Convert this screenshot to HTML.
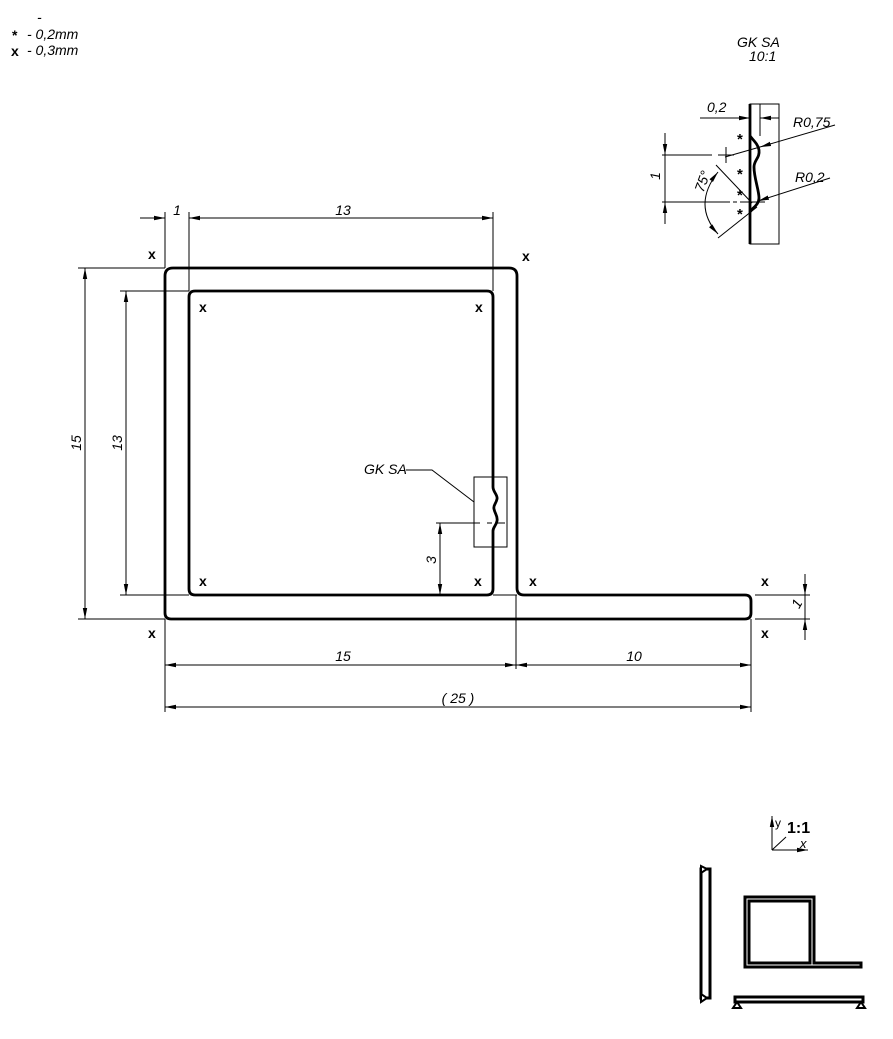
<!DOCTYPE html>
<html><head><meta charset="utf-8"><style>
html,body{margin:0;padding:0;background:#fff;}
svg{display:block;}
text{font-family:"Liberation Sans",sans-serif;fill:#000;}
.it{font-style:italic;font-size:14px;}
.xm{font-size:14px;font-weight:bold;}
</style></head><body>
<svg width="893" height="1039" viewBox="0 0 893 1039" xmlns="http://www.w3.org/2000/svg">
<defs>
<marker id="a" markerWidth="12" markerHeight="6" refX="11" refY="3" orient="auto-start-reverse" markerUnits="userSpaceOnUse">
<path d="M0,0.8 L11,3 L0,5.2 Z" fill="#000"/></marker>
</defs>
<g stroke="#000" fill="none">
<path d="M165,276 Q165,268 173,268 L509,268 Q517,268 517,276 L517,588 Q517,595 524,595 L745,595 Q751,595 751,601 L751,613 Q751,619 745,619 L171,619 Q165,619 165,613 Z" stroke-width="2.8"/>
<path d="M195,291 L487,291 Q493,291 493,297 L493,487 C493,492 498,495 497,499 C496,504 493,505 494,509 C495,514 498,516 497,521 C496,526 493,527 493,531 L493,589 Q493,595 487,595 L195,595 Q189,595 189,589 L189,297 Q189,291 195,291 Z" stroke-width="2.8"/>
<line x1="493" y1="595" x2="517" y2="595" stroke-width="1"/>
<rect x="474" y="477" width="33" height="70" stroke-width="1"/>
<path d="M474,502 L432,470 L406,470" stroke-width="1"/>
<line x1="487" y1="523" x2="492" y2="523" stroke-width="1"/>
<line x1="497" y1="523" x2="505" y2="523" stroke-width="1"/>
<g stroke-width="1">
<line x1="165" y1="212" x2="165" y2="268"/>
<line x1="189" y1="212" x2="189" y2="291"/>
<line x1="493" y1="212" x2="493" y2="291"/>
<line x1="140" y1="218" x2="165" y2="218" marker-end="url(#a)"/>
<line x1="189" y1="218" x2="493" y2="218" marker-start="url(#a)" marker-end="url(#a)"/>
<line x1="78" y1="268" x2="165" y2="268"/>
<line x1="78" y1="619" x2="165" y2="619"/>
<line x1="85" y1="268" x2="85" y2="619" marker-start="url(#a)" marker-end="url(#a)"/>
<line x1="120" y1="291" x2="189" y2="291"/>
<line x1="120" y1="595" x2="189" y2="595"/>
<line x1="126" y1="291" x2="126" y2="595" marker-start="url(#a)" marker-end="url(#a)"/>
<line x1="436" y1="523" x2="480" y2="523"/>
<line x1="440" y1="523" x2="440" y2="595" marker-start="url(#a)" marker-end="url(#a)"/>
<line x1="165" y1="619" x2="165" y2="712"/>
<line x1="516" y1="595" x2="516" y2="669"/>
<line x1="751" y1="619" x2="751" y2="712"/>
<line x1="165" y1="665" x2="516" y2="665" marker-start="url(#a)" marker-end="url(#a)"/>
<line x1="516" y1="665" x2="751" y2="665" marker-start="url(#a)" marker-end="url(#a)"/>
<line x1="165" y1="707" x2="751" y2="707" marker-start="url(#a)" marker-end="url(#a)"/>
<line x1="755" y1="595" x2="810" y2="595"/>
<line x1="755" y1="619" x2="810" y2="619"/>
<line x1="805" y1="574" x2="805" y2="595" marker-end="url(#a)"/>
<line x1="805" y1="640" x2="805" y2="619" marker-end="url(#a)"/>
<line x1="805" y1="595" x2="805" y2="619"/>
</g>
<rect x="750" y="104" width="29" height="140" stroke-width="1"/>
<line x1="750" y1="104" x2="750" y2="244" stroke-width="2.8"/>
<path d="M750,136 C753,140 758,144 759,150 C760,158 754,160 754,167 C754,178 759,190 759,198 C759,205 752,208 750,212" stroke-width="2.8"/>
<g stroke-width="1">
<line x1="760" y1="104" x2="760" y2="136"/>
<line x1="700" y1="118" x2="750" y2="118" marker-end="url(#a)"/>
<line x1="779" y1="118" x2="760" y2="118" marker-end="url(#a)"/>
<line x1="835" y1="125" x2="760" y2="147" marker-end="url(#a)"/>
<line x1="760" y1="147" x2="725" y2="157"/>
<line x1="830" y1="178" x2="758" y2="201" marker-end="url(#a)"/>
<line x1="718" y1="155" x2="734" y2="155"/>
<line x1="726" y1="147" x2="726" y2="163"/>
<line x1="662" y1="155" x2="712" y2="155"/>
<line x1="662" y1="202" x2="730" y2="202"/>
<line x1="733" y1="202" x2="737" y2="202"/>
<line x1="740" y1="202" x2="765" y2="202"/>
<line x1="665" y1="133" x2="665" y2="155" marker-end="url(#a)"/>
<line x1="665" y1="224" x2="665" y2="202" marker-end="url(#a)"/>
<line x1="665" y1="155" x2="665" y2="202"/>
<line x1="716" y1="165" x2="752" y2="203"/>
<line x1="718" y1="238" x2="757" y2="207"/>
<path d="M718,172 Q692,205 718,234" marker-start="url(#a)" marker-end="url(#a)"/>
</g>
<g stroke-width="1">
<line x1="772" y1="850" x2="772" y2="816" marker-end="url(#a)"/>
<line x1="772" y1="850" x2="808" y2="850" marker-end="url(#a)"/>
<line x1="772" y1="850" x2="786" y2="837"/>
</g>
<rect x="701" y="869" width="9" height="129" stroke-width="3"/>
<path d="M701,866 L707,869 L701,873 Z M701,994 L707,998 L701,1002 Z" stroke-width="2" fill="#fff"/>
<rect x="735" y="997" width="128" height="5" stroke-width="3"/>
<path d="M737,1002 L733,1008 L741,1008 Z M861,1002 L857,1008 L865,1008 Z" stroke-width="2"/>
<path d="M745,897 L814,897 L814,963 L861,963 L861,967 L745,967 Z" stroke-width="3"/>
<path d="M749,901 L810,901 L810,963 L749,963 Z" stroke-width="3"/>
</g>
<text class="it" x="37" y="22" font-size="10">-</text>
<text x="12" y="40" font-size="14" font-weight="bold">*</text>
<text class="it" x="27" y="39">- 0,2mm</text>
<text x="11" y="56" font-size="14" font-weight="bold">x</text>
<text class="it" x="27" y="55">- 0,3mm</text>
<text class="it" x="737" y="47">GK SA</text>
<text class="it" x="749" y="61">10:1</text>
<text class="it" x="707" y="112">0,2</text>
<text class="it" x="793" y="127">R0,75</text>
<text class="it" x="795" y="182">R0,2</text>
<text class="it" transform="translate(660,176) rotate(-90)" text-anchor="middle">1</text>
<text class="it" transform="translate(707,183) rotate(-70)" text-anchor="middle">75°</text>
<g font-size="15" font-weight="bold"><text x="737" y="144">*</text><text x="737" y="179">*</text><text x="737" y="200">*</text><text x="737" y="219">*</text></g>
<text class="it" x="177" y="215" text-anchor="middle">1</text>
<text class="it" x="343" y="215" text-anchor="middle">13</text>
<text class="it" transform="translate(81,443) rotate(-90)" text-anchor="middle">15</text>
<text class="it" transform="translate(122,443) rotate(-90)" text-anchor="middle">13</text>
<text class="it" transform="translate(436,560) rotate(-90)" text-anchor="middle">3</text>
<text class="it" x="364" y="474">GK SA</text>
<text class="it" x="343" y="661" text-anchor="middle">15</text>
<text class="it" x="634" y="661" text-anchor="middle">10</text>
<text class="it" x="458" y="703" text-anchor="middle">( 25 )</text>
<text class="it" transform="translate(801,606) rotate(-60)" text-anchor="middle">1</text>
<g class="xm">
<text x="148" y="259">x</text><text x="522" y="261">x</text>
<text x="199" y="312">x</text><text x="475" y="312">x</text>
<text x="199" y="586">x</text><text x="474" y="586">x</text>
<text x="529" y="586">x</text><text x="761" y="586">x</text>
<text x="148" y="638">x</text><text x="761" y="638">x</text>
</g>
<text x="775" y="827" font-size="12">y</text>
<text x="787" y="833" font-size="16" font-weight="bold">1:1</text>
<text x="800" y="848" font-size="13" font-style="italic">x</text>
</svg>
</body></html>
